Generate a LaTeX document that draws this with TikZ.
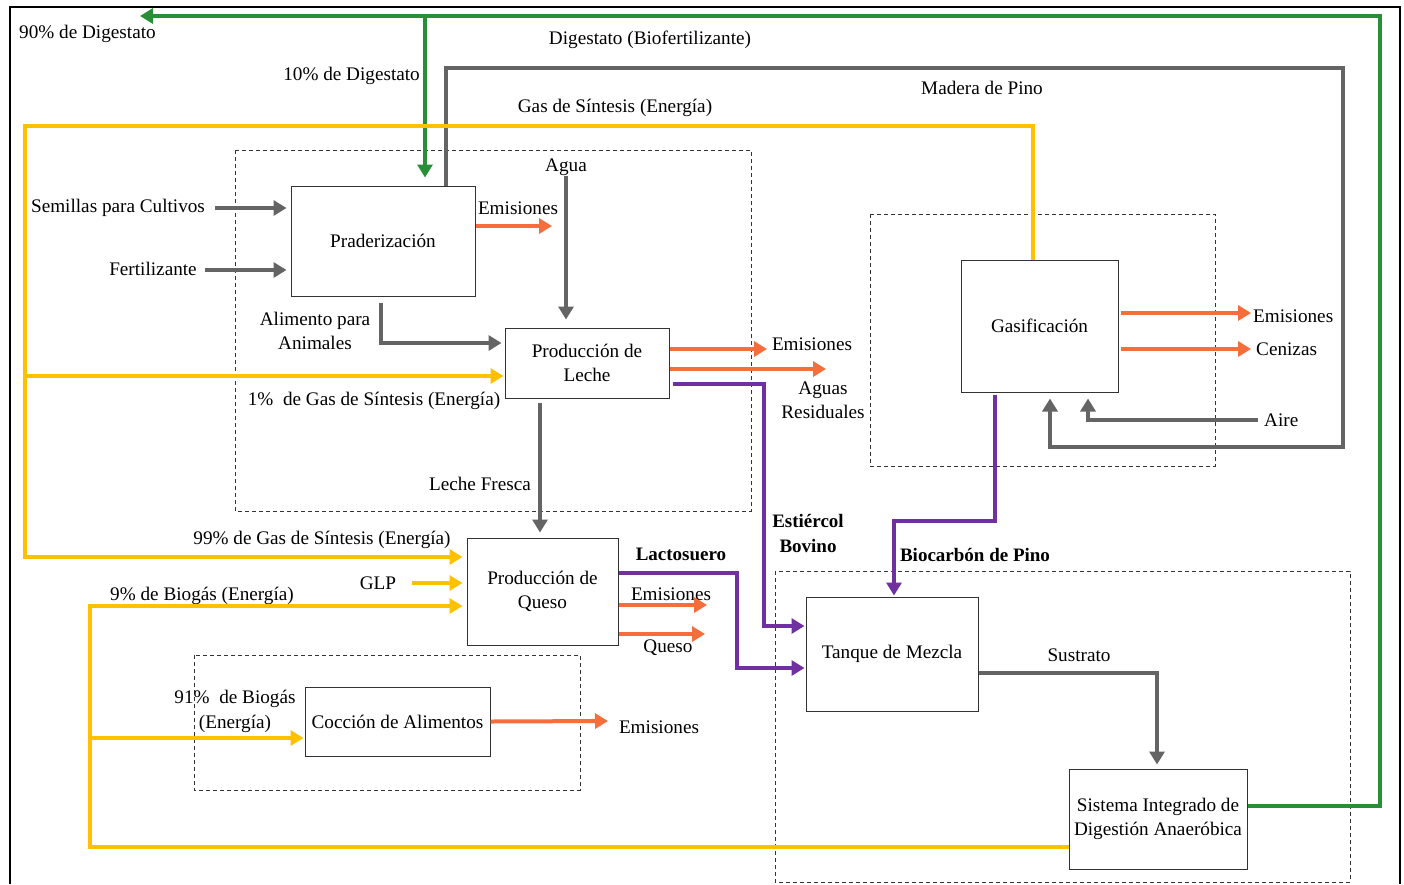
\documentclass[tikz,border=0pt]{standalone}
\usepackage{fontspec}
\setmainfont{Liberation Serif}
\usetikzlibrary{arrows.meta}
\definecolor{cgreen}{RGB}{40,142,55}
\definecolor{cyellow}{RGB}{255,192,0}
\definecolor{corange}{RGB}{245,110,60}
\definecolor{cgray}{RGB}{100,100,100}
\definecolor{cpurple}{RGB}{112,48,160}
\tikzset{
  box/.style={draw=black!80, line width=1pt, fill=white, align=center, inner sep=2pt},
  dbox/.style={draw=black!80, dashed, line width=0.8pt, dash pattern=on 4pt off 3pt},
  lbl/.style={inner sep=0pt, align=center},
  flow/.style={line width=4pt, line join=miter, -{Triangle[length=13pt,width=15pt]}},
  gflow/.style={flow, draw=cgray},
  oflow/.style={flow, draw=corange},
  yflow/.style={flow, draw=cyellow},
  pflow/.style={flow, draw=cpurple},
  grflow/.style={flow, draw=cgreen},
}
\begin{document}
\begin{tikzpicture}[x=1pt,y=-1pt, font=\fontsize{19.2}{24.5}\selectfont]
\useasboundingbox (0,0) rectangle (1404,884);
\fill[white] (0,0) rectangle (1404,884);
% outer frame
\draw[line width=2pt] (10,884) -- (10,7) -- (1400,7) -- (1400,884);
% dashed groups
\draw[dbox] (235,150) rectangle (751,511);
\draw[dbox] (870,214) rectangle (1215,466);
\draw[dbox] (194,655) rectangle (580,790);
\draw[dbox] (775,571) rectangle (1350,882);
% boxes
\node[box, minimum width=184, minimum height=110] (prad) at (383,241) {Praderización};
\node[box, minimum width=164, minimum height=70] (leche) at (587,363) {Producción de\\Leche};
\node[box, minimum width=151, minimum height=107] (queso) at (542.5,591.5) {Producción de\\Queso};
\node[box, minimum width=185, minimum height=69] (coccion) at (397.5,721.5) {Cocción de Alimentos};
\node[box, minimum width=157, minimum height=132] (gas) at (1039.5,326) {Gasificación};
\node[box, minimum width=172, minimum height=114] (tanque) at (892,654) {Tanque de Mezcla};
\node[box, minimum width=178, minimum height=100] (sida) at (1158,819) {Sistema Integrado de\\Digestión Anaeróbica};
% labels
\node[lbl, anchor=west] (l90) at (19,34) {90\% de Digestato};
\node[lbl] (ldig) at (650,40) {Digestato (Biofertilizante)};
\node[lbl, anchor=east] (l10) at (420,76) {10\% de Digestato};
\node[lbl] (lmad) at (982,88) {Madera de Pino};
\node[lbl] (lgas) at (615,108) {Gas de Síntesis (Energía)};
\node[lbl] (lagua) at (566,167) {Agua};
\node[lbl] (lsem) at (118,208) {Semillas para Cultivos};
\node[lbl] (lfer) at (153,269) {Fertilizante};
\node[lbl] (lem1) at (518,208) {Emisiones};
\node[lbl] (lali) at (315,331) {Alimento para\\Animales};
\node[lbl] (lem2) at (812,344) {Emisiones};
\node[lbl] (lagu) at (823,400) {Aguas\\Residuales};
\node[lbl] (l1) at (374,401) {1\%\ \ de Gas de Síntesis (Energía)};
\node[lbl] (llf) at (480,484) {Leche Fresca};
\node[lbl, font=\fontsize{19}{25}\selectfont\bfseries] (lest) at (808,533) {Estiércol\\Bovino};
\node[lbl, font=\fontsize{19}{24}\selectfont\bfseries] (lbio) at (975,555) {Biocarbón de Pino};
\node[lbl, font=\fontsize{19}{24}\selectfont\bfseries] (llac) at (681,554) {Lactosuero};
\node[lbl] (l99) at (322,540) {99\% de Gas de Síntesis (Energía)};
\node[lbl] (lglp) at (378,583) {GLP};
\node[lbl] (l9) at (202,596) {9\% de Biogás (Energía)};
\node[lbl] (lem3) at (671,594) {Emisiones};
\node[lbl] (lque) at (668,648) {Queso};
\node[lbl] (l91a) at (235,699) {91\%\ \ de Biogás};
\node[lbl] (l91b) at (235,724) {(Energía)};
\node[lbl] (lem4) at (659,727) {Emisiones};
\node[lbl] (lsus) at (1079,655) {Sustrato};
\node[lbl, anchor=west] (lem5) at (1253,316) {Emisiones};
\node[lbl, anchor=west] (lcen) at (1256,349) {Cenizas};
\node[lbl, anchor=west] (laire) at (1264,420) {Aire};
% coordinates
\coordinate (gTR) at (1380,16);
\coordinate (gL) at (140,16);
\coordinate (gB) at (425,16);
\coordinate (yTL) at (25,126);
\coordinate (yBL) at (25,557);
\coordinate (yML) at (25,376);
\coordinate (bBL) at (90,847);
\coordinate (bTL) at (90,606);
\coordinate (bML) at (90,738);
\coordinate (mTR) at (1343,68);
\coordinate (mBR) at (1343,447);
\coordinate (pC1) at (764,384);
\coordinate (pC2) at (737,573);
\coordinate (pC3) at (995,521);
\coordinate (glp0) at (412,583);
\coordinate (sem0) at (215,208);
\coordinate (fer0) at (205,270);
\coordinate (aire0) at (1258,420);
\coordinate (oe1) at (552,226);
\coordinate (oe2) at (767,349);
\coordinate (oe3) at (826,369);
\coordinate (oe4) at (707,605);
\coordinate (oe5) at (705,634);
\coordinate (oe6) at (608,721);
\coordinate (oe7) at (1251,313);
\coordinate (oe8) at (1251,349);
% green
\draw[grflow] ([yshift=13pt]sida.east) -| (gTR) -- (gL);
\draw[grflow] (gB) -- ([xshift=42pt,yshift=8pt]prad.north);
% gray
\draw[gflow] ([xshift=63pt]prad.north) |- (mTR) -- (mBR) -| ([xshift=10.5pt,yshift=-6pt]gas.south);
\draw[gflow] (aire0) -| ([xshift=48.5pt,yshift=-6pt]gas.south);
\draw[gflow, shorten >=4pt] (sem0) -- (prad.west |- sem0);
\draw[gflow, shorten >=4pt] (fer0) -- (prad.west |- fer0);
\draw[gflow] (lagua.south) -- ([xshift=-21pt,yshift=8pt]leche.north);
\draw[gflow] ([xshift=-2pt,yshift=-6pt]prad.south) |- ([xshift=-3pt,yshift=20pt]leche.west);
\draw[gflow] ([xshift=-47pt,yshift=-4pt]leche.south) -- ([xshift=-2.5pt,yshift=5pt]queso.north);
\draw[gflow] ([yshift=-19pt]tanque.east) -| ([xshift=-1pt,yshift=4pt]sida.north);
% yellow
\draw[yflow] ([xshift=-6.5pt]gas.north) |- (yTL) -- (yBL) -- ([xshift=-4pt,yshift=34.5pt]queso.west);
\draw[yflow] (yML) -- ([xshift=-1pt,yshift=-13pt]leche.west);
\draw[yflow] (glp0) -- ([xshift=-4pt,yshift=8.5pt]queso.west);
\draw[yflow] ([yshift=-28pt]sida.west) -- (bBL) -- (bTL) -- ([xshift=-4pt,yshift=-14.5pt]queso.west);
\draw[yflow] (bML) -- ([xshift=-1pt,yshift=-16.5pt]coccion.west);
% orange
\draw[oflow] ([yshift=15pt]prad.east) -- (oe1);
\draw[oflow] ([yshift=14pt]leche.east) -- (oe2);
\draw[oflow] ([yshift=-6pt]leche.east) -- (oe3);
\draw[oflow] ([yshift=-13.5pt]queso.east) -- (oe4);
\draw[oflow] ([yshift=-42.5pt]queso.east) -- (oe5);
\draw[oflow] (coccion.east) -- (oe6);
\draw[oflow] ([xshift=2pt,yshift=13pt]gas.east) -- (oe7);
\draw[oflow] ([xshift=2pt,yshift=-23pt]gas.east) -- (oe8);
% purple
\draw[pflow] ([xshift=3pt,yshift=-21pt]leche.east) -| (pC1) |- ([xshift=-1pt,yshift=28pt]tanque.west);
\draw[pflow] ([yshift=18.5pt]queso.east) -- (pC2) |- ([xshift=-1pt,yshift=-14pt]tanque.west);
\draw[pflow] ([xshift=-44.5pt,yshift=-2pt]gas.south) -- (pC3) -| ([xshift=2pt,yshift=1pt]tanque.north);
\end{tikzpicture}
\end{document}
